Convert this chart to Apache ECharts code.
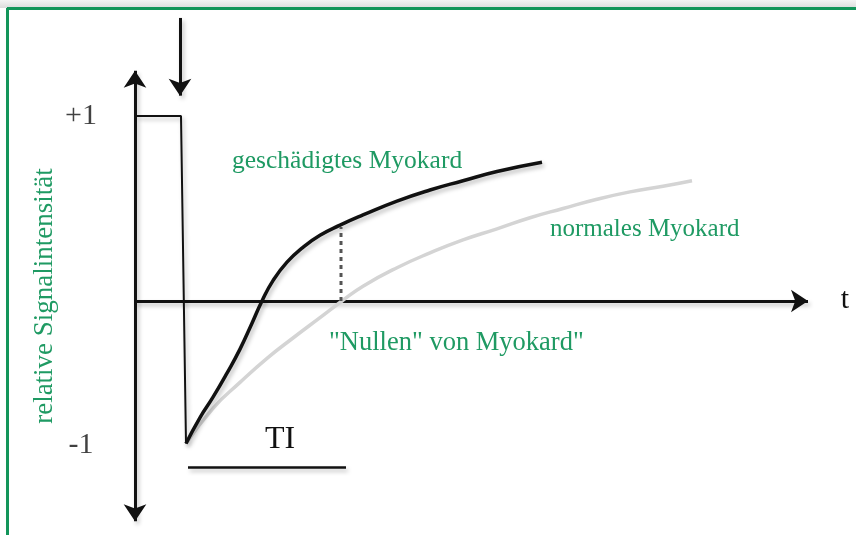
<!DOCTYPE html>
<html>
<head>
<meta charset="utf-8">
<script src="https://cdn.jsdelivr.net/npm/echarts@6/dist/echarts.min.js"></script>
<style>
  html, body { margin: 0; padding: 0; background: #fff; }
  #main { width: 856px; height: 535px; }
</style>
</head>
<body>
<div id="main"></div>
<script>
// Zeit t (willkürliche Einheiten) und relative Signalintensität
var damagedT = [0.51, 0.65, 0.78, 0.92, 1.05, 1.17, 1.27, 1.38, 1.52, 1.68, 1.85, 2.05, 2.28, 2.62, 2.95, 3.28, 3.62, 4.07]
var damagedS = [-0.77, -0.63, -0.52, -0.39, -0.26, -0.12, 0, 0.11, 0.21, 0.29, 0.355, 0.41, 0.465, 0.54, 0.6, 0.65, 0.7, 0.75]
var normalT = [0.51, 0.78, 1.05, 1.32, 1.58, 1.85, 2.07, 2.28, 2.62, 2.95, 3.28, 3.62, 3.95, 4.28, 4.62, 4.95, 5.28, 5.57]
var normalS = [-0.77, -0.58, -0.44, -0.31, -0.2, -0.09, 0, 0.08, 0.18, 0.26, 0.33, 0.39, 0.45, 0.5, 0.55, 0.59, 0.62, 0.65]
// Inversionspuls
var pulseT = [0.02, 0.46, 0.51]
var pulseS = [1, 1, -0.77]
// Nullungszeitpunkt TI
var nullT = 2.06
var nullTop = 0.4
var tiStart = 0.53
var tiEnd = 2.11
var tiLevel = -0.9
// y-Beschriftungen
var yTickLabels = ['+1', '-1']
var yTickValues = [1, -0.78]

function pairs(xs, ys) {
  return xs.map(function (x, i) { return [x, ys[i]] })
}

var GREEN = '#1f9a63'
var SERIF = "'Liberation Serif', 'Times New Roman', serif"
var shadow = { shadowColor: 'rgba(0,0,0,0.25)', shadowBlur: 4, shadowOffsetX: 2, shadowOffsetY: 3 }

var chart = echarts.init(document.getElementById('main'))
chart.setOption({
  animation: false,
  grid: { left: 0, right: 0, top: 0, bottom: 0 },
  xAxis: { type: 'value', min: -1.35, max: 7.21, show: false },
  yAxis: { type: 'value', min: -234 / 185, max: 301 / 185, show: false },
  graphic: [
    {
      type: 'rect', shape: { x: 0, y: 0, width: 856, height: 8 },
      style: { fill: new echarts.graphic.LinearGradient(0, 0, 0, 1, [
        { offset: 0, color: '#f4f4f4' }, { offset: 1, color: '#dcdcdc' }]) },
      silent: true
    },
    { type: 'line', shape: { x1: 7, y1: 8.5, x2: 856, y2: 8.5 }, style: { stroke: '#13955a', lineWidth: 3 } },
    { type: 'line', shape: { x1: 7.5, y1: 8, x2: 7.5, y2: 535 }, style: { stroke: '#13955a', lineWidth: 3 } },
    {
      type: 'text', x: 45, y: 296, rotation: Math.PI / 2,
      style: { text: 'relative Signalintensität', fill: GREEN, font: '27px ' + SERIF, textAlign: 'center', textVerticalAlign: 'middle' }
    },
    { type: 'text', x: 232, y: 161, style: { text: 'geschädigtes Myokard', fill: GREEN, font: '25.5px ' + SERIF, textVerticalAlign: 'middle' } },
    { type: 'text', x: 550, y: 229, style: { text: 'normales Myokard', fill: GREEN, font: '25px ' + SERIF, textVerticalAlign: 'middle' } },
    { type: 'text', x: 329, y: 343, style: { text: '"Nullen" von Myokard"', fill: GREEN, font: '26.5px ' + SERIF, textVerticalAlign: 'middle' } },
    { type: 'text', x: 280, y: 440, style: { text: 'TI', fill: '#111', font: '32px ' + SERIF, textAlign: 'center', textVerticalAlign: 'middle' } },
    { type: 'text', x: 845, y: 300, style: { text: 't', fill: '#111', font: '30px ' + SERIF, textAlign: 'center', textVerticalAlign: 'middle' } }
  ],
  series: [
    {
      name: 'normales Myokard', type: 'line', smooth: true, showSymbol: false,
      data: pairs(normalT, normalS),
      lineStyle: { color: '#d4d4d4', width: 3.5 }
    },
    {
      name: 'Achsen', type: 'lines', coordinateSystem: 'cartesian2d', polyline: false,
      symbol: ['arrow', 'arrow'], symbolSize: 17,
      lineStyle: Object.assign({ color: '#111', width: 3, opacity: 1 }, shadow),
      data: [{ coords: [[0, -1.19], [0, 1.245]] }]
    },
    {
      name: 'Zeitachse', type: 'lines', coordinateSystem: 'cartesian2d', polyline: false,
      symbol: ['none', 'arrow'], symbolSize: 17,
      lineStyle: Object.assign({ color: '#111', width: 3, opacity: 1 }, shadow),
      data: [{ coords: [[0, 0], [6.73, 0]] }, { coords: [[0.45, 1.53], [0.45, 1.11]] }]
    },
    {
      name: 'Puls', type: 'line', showSymbol: false,
      data: pairs(pulseT, pulseS),
      lineStyle: Object.assign({ color: '#111', width: 2 }, shadow)
    },
    {
      name: 'geschädigtes Myokard', type: 'line', smooth: true, showSymbol: false,
      data: pairs(damagedT, damagedS),
      lineStyle: Object.assign({ color: '#111', width: 3.5 }, shadow)
    },
    {
      name: 'Nullung', type: 'line', showSymbol: false,
      data: [[nullT, 0], [nullT, nullTop]],
      lineStyle: { color: '#555', width: 3, type: [4, 4] }
    },
    {
      name: 'TI', type: 'line', showSymbol: false,
      data: [[tiStart, tiLevel], [tiEnd, tiLevel]],
      lineStyle: Object.assign({ color: '#111', width: 2.5 }, shadow)
    },
    {
      name: 'y-Beschriftung', type: 'scatter', symbolSize: 0,
      data: yTickValues.map(function (v, i) { return { value: [-0.54, v], label: { formatter: yTickLabels[i] } } }),
      label: { show: true, position: 'inside', color: '#111', fontSize: 30, fontFamily: SERIF }
    }
  ]
})
</script>
</body>
</html>
